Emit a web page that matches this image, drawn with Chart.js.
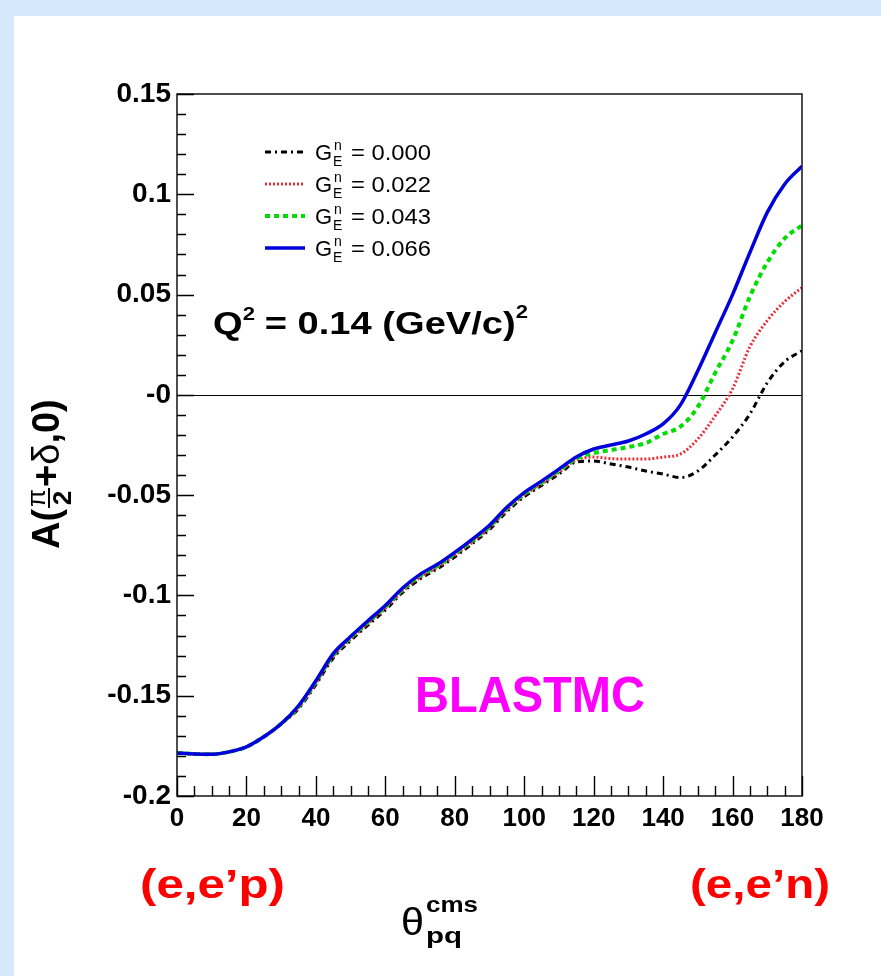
<!DOCTYPE html>
<html>
<head>
<meta charset="utf-8">
<script src="https://cdn.jsdelivr.net/npm/chart.js@4/dist/chart.umd.min.js"></script>
<style>
html,body{margin:0;padding:0;background:#fff;}
#wrap{position:relative;width:881px;height:976px;}
</style>
</head>
<body>
<div id="wrap"><canvas id="c" width="881" height="976"></canvas></div>
<script>
// ---- data ----
const thetas = [0,5,10,15,20,25,30,35,40,45,50,55,60,65,70,75,80,85,90,95,100,105,110,115,120,125,130,135,140,145,150,155,160,165,170,175,180];
const gen000 = [-0.1785,-0.179,-0.1792,-0.178,-0.1755,-0.1705,-0.164,-0.1565,-0.1445,-0.1312,-0.1225,-0.1148,-0.1073,-0.0985,-0.0918,-0.0867,-0.0808,-0.0742,-0.0672,-0.0582,-0.0508,-0.0452,-0.0395,-0.0335,-0.033,-0.0345,-0.036,-0.038,-0.0395,-0.0412,-0.038,-0.030,-0.021,-0.0095,0.006,0.0165,0.022];
const gen022 = [-0.1785,-0.179,-0.1792,-0.178,-0.1755,-0.1705,-0.164,-0.156,-0.1438,-0.1305,-0.1218,-0.114,-0.1065,-0.0978,-0.091,-0.086,-0.080,-0.0735,-0.0665,-0.0575,-0.050,-0.0445,-0.0386,-0.0325,-0.031,-0.0318,-0.032,-0.032,-0.031,-0.0295,-0.022,-0.0105,0.003,0.024,0.037,0.0465,0.0535];
const gen043 = [-0.1785,-0.179,-0.1792,-0.178,-0.1755,-0.1705,-0.164,-0.1555,-0.143,-0.1298,-0.121,-0.1133,-0.1057,-0.097,-0.0902,-0.0852,-0.0792,-0.0727,-0.0657,-0.0567,-0.0494,-0.0437,-0.0378,-0.0318,-0.029,-0.0275,-0.026,-0.024,-0.0195,-0.0158,-0.006,0.011,0.027,0.049,0.066,0.078,0.0845];
const gen066 = [-0.1785,-0.179,-0.1792,-0.178,-0.1755,-0.1705,-0.164,-0.155,-0.1425,-0.129,-0.1205,-0.1126,-0.105,-0.0963,-0.0895,-0.0845,-0.0785,-0.072,-0.065,-0.056,-0.0487,-0.043,-0.037,-0.031,-0.027,-0.025,-0.023,-0.0195,-0.0145,-0.005,0.012,0.031,0.050,0.071,0.091,0.105,0.114];
const seriesValues = ['0.000','0.022','0.043','0.066'];
const xTickLabels = ['0','20','40','60','80','100','120','140','160','180'];
const yTickLabels = ['-0.2','-0.15','-0.1','-0.05','-0','0.05','0.1','0.15'];

// ---- styles ----
const FAM = '"Liberation Sans", Arial, Helvetica, sans-serif';
const xTickFont = {family: FAM, size: 26, weight: 'bold'};
const yTickFont = {family: FAM, size: 28, weight: 'bold'};

const styles = [
  {color:'#000000', width:3, dash:[6,4,2,4]},
  {color:'#e8303a', width:3, dash:[2,2]},
  {color:'#00dd00', width:4, dash:[5,4]},
  {color:'#0000dd', width:3.5, dash:[]}
];
const seriesData = [gen000, gen022, gen043, gen066];

const datasets = seriesData.map((vals, i) => ({
  label: 'GEn = ' + seriesValues[i],
  data: thetas.map((t, k) => ({x: t, y: vals[k]})),
  borderColor: styles[i].color,
  borderWidth: styles[i].width,
  borderDash: styles[i].dash,
  borderCapStyle: 'butt',
  pointRadius: 0,
  fill: false,
  cubicInterpolationMode: 'monotone',
  order: 3 - i
}));

function rich(ctx, x, y, segs, target) {
  let w = 0;
  for (const s of segs) { ctx.font = s.f; if (!s.stack) w += ctx.measureText(s.t).width + (s.gap || 0); }
  const sx = target ? target / w : 1;
  ctx.save();
  ctx.translate(x, y);
  ctx.scale(sx, 1);
  let cx = 0;
  for (const s of segs) {
    ctx.font = s.f;
    ctx.fillText(s.t, cx, s.dy || 0);
    if (!s.stack) cx += ctx.measureText(s.t).width + (s.gap || 0);
  }
  ctx.restore();
}

const decor = {
  id: 'decor',
  beforeDraw(chart) {
    const ctx = chart.ctx;
    ctx.save();
    ctx.fillStyle = '#ffffff';
    ctx.fillRect(0, 0, chart.width, chart.height);
    ctx.fillStyle = '#d5e8fc';
    ctx.fillRect(0, 0, chart.width, 16);
    ctx.fillRect(0, 0, 14, chart.height);
    ctx.restore();
  },
  beforeDatasetsDraw(chart) {
    const ctx = chart.ctx, a = chart.chartArea, ys = chart.scales.y;
    ctx.save();
    ctx.strokeStyle = '#000';
    ctx.lineWidth = 1.2;
    const y0 = Math.round(ys.getPixelForValue(0)) + 0.5;
    ctx.beginPath(); ctx.moveTo(a.left, y0); ctx.lineTo(a.right, y0); ctx.stroke();
    ctx.restore();
  },
  afterDatasetsDraw(chart) {
    const ctx = chart.ctx, a = chart.chartArea, xs = chart.scales.x, ys = chart.scales.y;
    ctx.save();
    // frame
    ctx.strokeStyle = '#222';
    ctx.lineWidth = 1.6;
    ctx.strokeRect(a.left, a.top, a.right - a.left, a.bottom - a.top);
    // ticks (inside)
    ctx.lineWidth = 1.4;
    ctx.strokeStyle = '#000';
    ctx.beginPath();
    for (let k = 0; k <= 36; k++) {
      const v = k * 5, px = Math.round(xs.getPixelForValue(v)) + 0.5;
      const len = (k % 4 === 0) ? 20 : 10;
      ctx.moveTo(px, a.bottom); ctx.lineTo(px, a.bottom - len);
    }
    for (let k = 0; k <= 35; k++) {
      const v = -0.2 + k * 0.01, py = Math.round(ys.getPixelForValue(v)) + 0.5;
      const len = (k % 5 === 0) ? 17 : 9;
      ctx.moveTo(a.left, py); ctx.lineTo(a.left + len, py);
    }
    ctx.stroke();

    // legend
    const rows = [152, 184, 216, 248];
    for (let i = 0; i < 4; i++) {
      const st = styles[i], ry = rows[i];
      ctx.save();
      ctx.strokeStyle = st.color; ctx.lineWidth = st.width; ctx.setLineDash(st.dash); ctx.lineCap = 'butt';
      ctx.beginPath(); ctx.moveTo(265, ry); ctx.lineTo(305, ry); ctx.stroke();
      ctx.restore();
      ctx.fillStyle = '#000';
      ctx.textBaseline = 'alphabetic';
      const by = ry + 8;
      ctx.font = '22px ' + FAM;
      ctx.fillText('G', 315, by);
      ctx.font = '14px ' + FAM;
      ctx.fillText('n', 334, by - 10);
      ctx.fillText('E', 333, by + 6);
      rich(ctx, 351, by, [{t: '= ' + seriesValues[i], f: '22px ' + FAM}], 80);
    }

    // Q^2 annotation
    ctx.fillStyle = '#000';
    rich(ctx, 213, 334, [
      {t: 'Q', f: 'bold 31px ' + FAM},
      {t: '2', f: 'bold 18px ' + FAM, dy: -14, gap: 8},
      {t: '= 0.14 (GeV/c)', f: 'bold 31px ' + FAM},
      {t: '2', f: 'bold 18px ' + FAM, dy: -16}
    ], 315);

    // BLASTMC
    ctx.fillStyle = '#ff00ff';
    rich(ctx, 415, 712, [{t: 'BLASTMC', f: 'bold 50px ' + FAM}], 230);

    // reaction labels
    ctx.fillStyle = '#ff0000';
    rich(ctx, 140, 898, [{t: '(e,e\u2019p)', f: 'bold 41px ' + FAM}], 145);
    rich(ctx, 690, 898, [{t: '(e,e\u2019n)', f: 'bold 41px ' + FAM}], 140);

    // x title
    ctx.fillStyle = '#000';
    rich(ctx, 401, 935, [{t: '\u03B8', f: '38px ' + FAM}], 23);
    rich(ctx, 426, 912, [{t: 'cms', f: 'bold 22px ' + FAM}], 52);
    rich(ctx, 426, 943, [{t: 'pq', f: 'bold 22px ' + FAM}], 36);

    // y title (rotated)
    ctx.save();
    ctx.translate(59, 549);
    ctx.rotate(-Math.PI / 2);
    ctx.fillStyle = '#000';
    ctx.font = 'bold 38px ' + FAM;
    let u = 0;
    ctx.fillText('A(', u, 0); u += ctx.measureText('A(').width + 1;
    ctx.font = '26px ' + FAM;
    const wpi = ctx.measureText('\u03C0').width;
    ctx.font = 'bold 26px ' + FAM;
    const w2 = ctx.measureText('2').width;
    const fw = Math.max(wpi, w2) + 2;
    ctx.font = '26px ' + FAM;
    ctx.fillText('\u03C0', u + (fw - wpi) / 2, -14);
    ctx.font = 'bold 26px ' + FAM;
    ctx.fillText('2', u + (fw - w2) / 2, 12);
    ctx.fillRect(u, -11, fw, 2);
    u += fw + 1;
    ctx.font = 'bold 38px ' + FAM;
    ctx.fillText('+', u, 0); u += ctx.measureText('+').width;
    ctx.font = '38px ' + FAM;
    ctx.fillText('\u03B4', u, 0); u += ctx.measureText('\u03B4').width;
    ctx.font = 'bold 38px ' + FAM;
    ctx.fillText(',0)', u, 0);
    ctx.restore();

    ctx.restore();
  }
};

new Chart(document.getElementById('c'), {
  type: 'line',
  data: {datasets},
  plugins: [decor],
  options: {
    responsive: false,
    animation: false,
    events: [],
    layout: {padding: {top: 94, right: 79, bottom: 0, left: 0}},
    plugins: {legend: {display: false}, tooltip: {enabled: false}},
    scales: {
      x: {
        type: 'linear', min: 0, max: 180,
        afterFit: s => { s.height = 180; },
        grid: {display: false, drawTicks: false, tickLength: 0},
        border: {display: false},
        ticks: {
          stepSize: 20, padding: 7, maxRotation: 0, autoSkip: false,
          color: '#000', font: xTickFont,
          callback: (v, i) => xTickLabels[i]
        }
      },
      y: {
        type: 'linear', min: -0.2, max: 0.15,
        afterFit: s => { s.width = 177; },
        grid: {display: false, drawTicks: false, tickLength: 0},
        border: {display: false},
        ticks: {
          stepSize: 0.05, padding: 6, autoSkip: false,
          color: '#000', font: yTickFont,
          callback: (v, i) => yTickLabels[i]
        }
      }
    }
  }
});
</script>
</body>
</html>
